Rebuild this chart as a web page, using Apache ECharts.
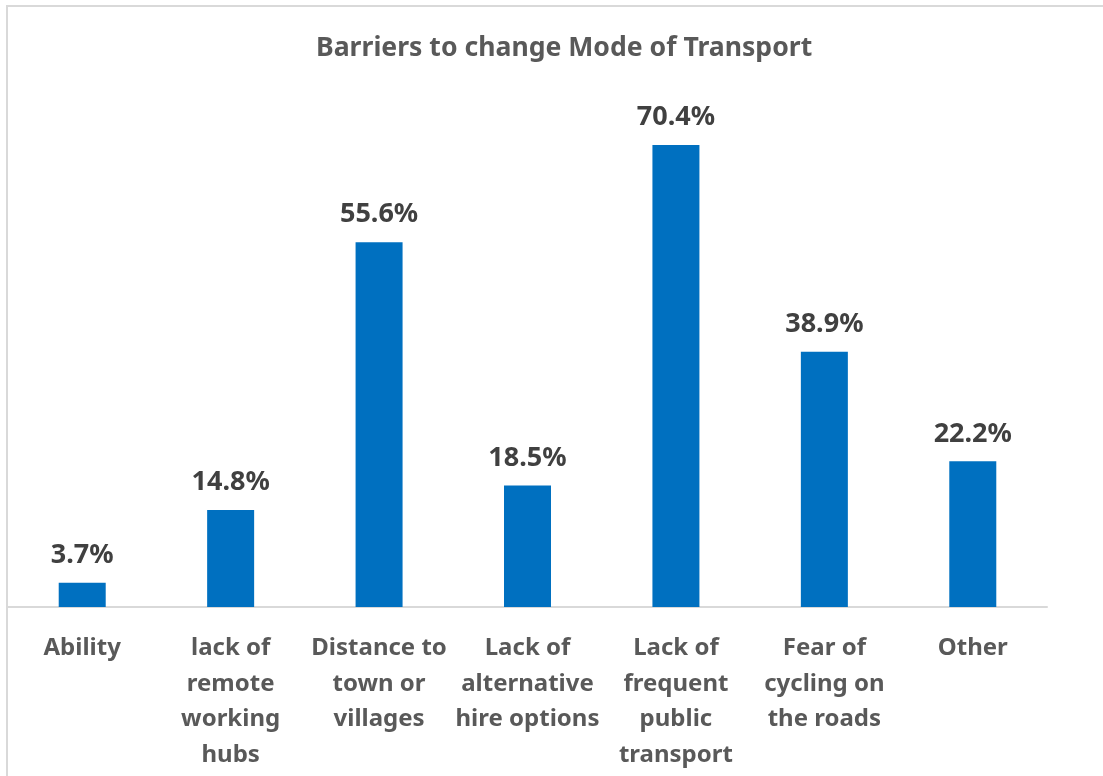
<!DOCTYPE html>
<html>
<head>
<meta charset="utf-8">
<script src="https://cdn.jsdelivr.net/npm/echarts@6/dist/echarts.min.js"></script>
<style>html,body{margin:0;padding:0;background:#fff;}#c{width:1103px;height:776px;}</style>
</head>
<body>
<div id="c"></div>
<script>
const categories = ["Ability", "lack of\nremote\nworking\nhubs", "Distance to\ntown or\nvillages", "Lack of\nalternative\nhire options", "Lack of\nfrequent\npublic\ntransport", "Fear of\ncycling on\nthe roads", "Other"];
const values = [3.7, 14.8, 55.6, 18.5, 70.4, 38.9, 22.2];
const titleText = "Barriers to change Mode of Transport";

const chart = echarts.init(document.getElementById('c'));
const FONT = '"Noto Sans", "Open Sans", sans-serif';
chart.setOption({
  animation: false,
  backgroundColor: '#fff',
  graphic: [{
    type: 'rect', shape: {x: 7, y: 6, width: 1200, height: 900},
    style: {fill: 'none', stroke: '#d9d9d9', lineWidth: 2}, silent: true, z: -1
  }],
  title: {
    text: titleText, left: 311, top: 30,
    textStyle: {fontFamily: FONT, fontWeight: 'bold', fontSize: 26.6, color: '#595959'}
  },
  grid: {left: 8, right: 56, top: 82, bottom: 169, containLabel: false},
  xAxis: {
    type: 'category', data: categories,
    axisLine: {show: true, lineStyle: {color: '#d9d9d9', width: 2}},
    axisTick: {show: false},
    axisLabel: {interval: 0, margin: 23.5, fontFamily: FONT, fontWeight: 'bold', fontSize: 24, lineHeight: 35.5, color: '#595959', verticalAlign: 'top'}
  },
  yAxis: {type: 'value', min: 0, max: 80, show: false, splitLine: {show: false}},
  series: [{
    type: 'bar', data: values, barWidth: 47,
    itemStyle: {color: '#0070C0'},
    label: {show: true, position: 'top', distance: 14, formatter: p => p.value.toFixed(1) + '%',
      fontFamily: FONT, fontWeight: 'bold', fontSize: 27, color: '#404040'}
  }]
});
</script>
</body>
</html>
